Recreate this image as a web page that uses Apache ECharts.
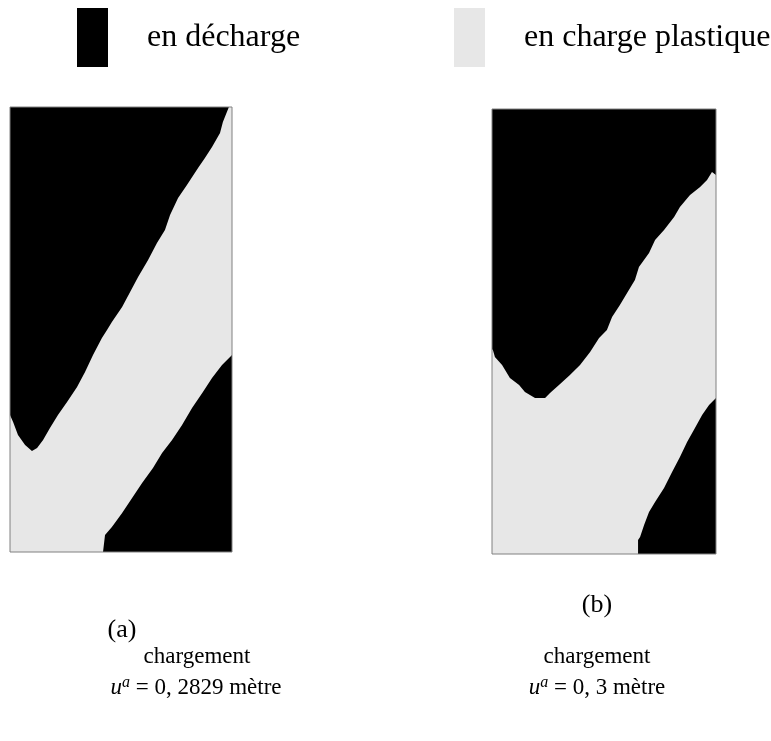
<!DOCTYPE html>
<html>
<head>
<meta charset="utf-8">
<script src="https://cdn.jsdelivr.net/npm/echarts@6/dist/echarts.min.js"></script>
<style>
html,body{margin:0;padding:0;background:#fff;}
#chart{width:771px;height:741px;}
</style>
</head>
<body>
<div id="chart"></div>
<script>
// Domain of each specimen: x in [0,1] (width), y in [0,2] (height)
const legendNames = ['en décharge', 'en charge plastique'];
const panelLabels = ['(a)', '(b)'];
const loadValues = ['0, 2829', '0, 3'];

// Whole specimen (plastic loading background)
const plasticA = [[0,0],[1,0],[1,2],[0,2]];
const plasticB = [[0,0],[1,0],[1,2],[0,2]];

// Panel (a) unloading zones
const unloadATop = [[0,2],[0.986,2],[0.959,1.933],[0.946,1.883],[0.910,1.820],[0.878,1.771],[0.847,1.726],
  [0.797,1.649],[0.757,1.591],[0.721,1.515],[0.698,1.447],[0.662,1.389],[0.622,1.312],[0.577,1.236],
  [0.541,1.169],[0.505,1.101],[0.459,1.034],[0.437,0.998],[0.414,0.962],[0.374,0.885],[0.338,0.809],
  [0.302,0.742],[0.257,0.674],[0.216,0.616],[0.180,0.557],[0.149,0.503],[0.122,0.467],[0.099,0.454],
  [0.068,0.481],[0.036,0.526],[0.014,0.584],[0,0.616]];
const unloadABottom = [[1,0.885],[0.955,0.840],[0.910,0.782],[0.869,0.719],[0.820,0.647],[0.775,0.571],
  [0.730,0.503],[0.685,0.445],[0.644,0.378],[0.595,0.310],[0.550,0.243],[0.505,0.175],[0.459,0.112],
  [0.428,0.076],[0.419,0],[1,0]];

// Panel (b) unloading zones
const unloadBTop = [[0,2],[1,2],[1,1.703],[0.982,1.717],[0.960,1.681],[0.929,1.649],[0.884,1.613],[0.839,1.560],
  [0.813,1.515],[0.768,1.456],[0.728,1.411],[0.701,1.353],[0.656,1.290],[0.638,1.231],[0.603,1.173],
  [0.571,1.119],[0.536,1.065],[0.513,1.007],[0.478,0.971],[0.438,0.908],[0.393,0.849],[0.348,0.804],
  [0.299,0.760],[0.259,0.724],[0.237,0.701],[0.192,0.701],[0.147,0.728],[0.121,0.760],[0.080,0.791],
  [0.045,0.849],[0.013,0.885],[0.004,0.917],[0,0.92]];
const unloadBBottom = [[1,0.701],[0.969,0.670],[0.938,0.625],[0.906,0.566],[0.871,0.503],[0.839,0.436],
  [0.804,0.369],[0.768,0.297],[0.728,0.234],[0.701,0.189],[0.679,0.130],[0.661,0.076],[0.652,0.063],
  [0.652,0],[1,0]];

const BLACK = '#000000';
const GRAY = '#e7e7e7';
const FONT = '"Liberation Serif", "DejaVu Serif", serif';
const CAP = 23;

function polySeries(name, gridIdx, poly, color, z) {
  return {
    type: 'custom', name: name,
    xAxisIndex: gridIdx, yAxisIndex: gridIdx,
    coordinateSystem: 'cartesian2d',
    itemStyle: {color: color},
    z: z, silent: true, animation: false,
    data: poly,
    renderItem: function (params, api) {
      if (params.dataIndex !== 0) return null;
      const pts = poly.map(function (p) { return api.coord(p); });
      return {type: 'polygon', shape: {points: pts}, style: {fill: color, stroke: null}};
    }
  };
}

const chart = echarts.init(document.getElementById('chart'), null, {renderer: 'canvas'});
const axisX = function (g) { return {type: 'value', gridIndex: g, min: 0, max: 1, show: false}; };
const axisY = function (g) { return {type: 'value', gridIndex: g, min: 0, max: 2, show: false}; };

const legendText = {fontFamily: FONT, fontSize: 32, color: '#000', padding: [0, 0, 0, 34]};

function uLine(x, y, val) {
  return {type: 'text', x: x, y: y, style: {
    text: '{i|u}{s|a}{n| = ' + val + ' mètre}', align: 'center', verticalAlign: 'middle', fill: '#000',
    rich: {i: {fontFamily: FONT, fontSize: CAP, fontStyle: 'italic', lineHeight: 27},
           s: {fontFamily: FONT, fontSize: 16, fontStyle: 'italic', verticalAlign: 'top', lineHeight: 16},
           n: {fontFamily: FONT, fontSize: CAP, lineHeight: 27}}}};
}
function plainText(x, y, t, size) {
  return {type: 'text', x: x, y: y, style: {text: t, font: size + 'px ' + FONT, fill: '#000', align: 'center', verticalAlign: 'middle'}};
}

const option = {
  animation: false,
  backgroundColor: '#ffffff',
  legend: [
    {left: 77, top: 8, padding: 0, itemWidth: 31, itemHeight: 59, icon: 'rect', selectedMode: false,
     data: [legendNames[0]], textStyle: legendText},
    {left: 454, top: 8, padding: 0, itemWidth: 31, itemHeight: 59, icon: 'rect', selectedMode: false,
     data: [legendNames[1]], textStyle: legendText}
  ],
  grid: [
    {left: 10, top: 107, width: 222, height: 445, show: true, borderColor: '#808080', borderWidth: 1, backgroundColor: 'transparent', z: 10},
    {left: 492, top: 109, width: 224, height: 445, show: true, borderColor: '#808080', borderWidth: 1, backgroundColor: 'transparent', z: 10}
  ],
  xAxis: [axisX(0), axisX(1)],
  yAxis: [axisY(0), axisY(1)],
  series: [
    polySeries(legendNames[1], 0, plasticA, GRAY, 1),
    polySeries(legendNames[0], 0, unloadATop, BLACK, 2),
    polySeries(legendNames[0], 0, unloadABottom, BLACK, 2),
    polySeries(legendNames[1], 1, plasticB, GRAY, 1),
    polySeries(legendNames[0], 1, unloadBTop, BLACK, 2),
    polySeries(legendNames[0], 1, unloadBBottom, BLACK, 2)
  ],
  graphic: [
    plainText(122, 630, panelLabels[0], 26),
    plainText(597, 605, panelLabels[1], 26),
    plainText(197, 657, 'chargement', CAP),
    plainText(597, 657, 'chargement', CAP),
    uLine(196, 688, loadValues[0]),
    uLine(597, 688, loadValues[1])
  ]
};
chart.setOption(option);
</script>
</body>
</html>
